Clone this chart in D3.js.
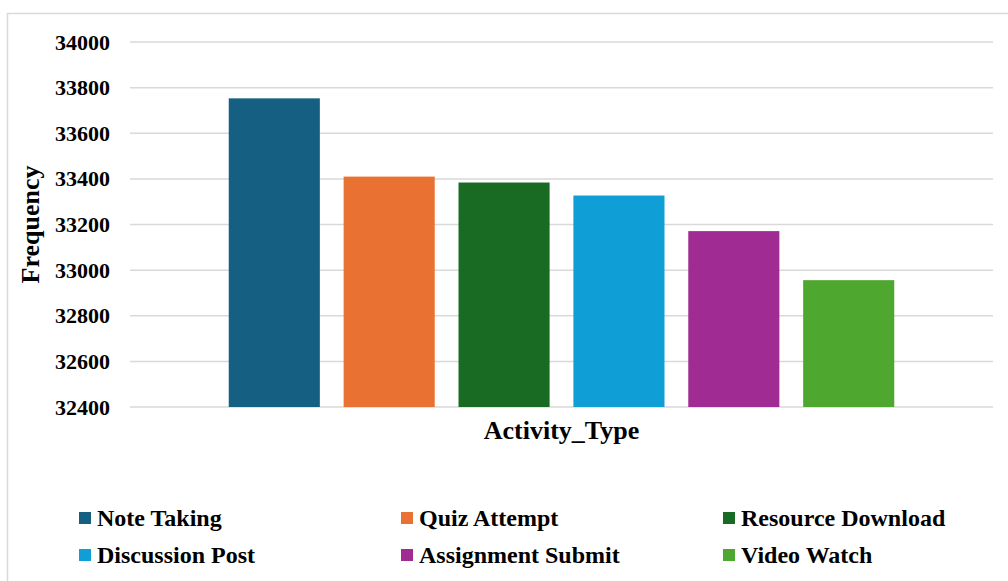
<!DOCTYPE html>
<html>
<head>
<meta charset="utf-8">
<script src="https://cdn.jsdelivr.net/npm/d3@7"></script>
<style>
  body { margin: 0; background: #fff; }
  svg { display: block; font-family: "Liberation Serif", "Times New Roman", serif; font-weight: bold; }
</style>
</head>
<body>
<div id="chart"></div>
<script>
const categories = ["Activity_Type"];
const series = ["Note Taking", "Quiz Attempt", "Resource Download", "Discussion Post", "Assignment Submit", "Video Watch"];
const values = [33753, 33410, 33384, 33327, 33171, 32956];
const colors = ["#156082", "#e97132", "#196b24", "#0f9ed5", "#a02b93", "#4ea72e"];
const yTicks = [32400, 32600, 32800, 33000, 33200, 33400, 33600, 33800, 34000];

const width = 1008, height = 581;
const plot = { left: 130, right: 993, top: 42, bottom: 407 };

const svg = d3.select("#chart").append("svg")
  .attr("width", width)
  .attr("height", height);

// chart area border
svg.append("rect")
  .attr("x", 7.5).attr("y", 13.5)
  .attr("width", 1010).attr("height", 600)
  .attr("fill", "#fff")
  .attr("stroke", "#d9d9d9")
  .attr("stroke-width", 1.5);

const y = d3.scaleLinear()
  .domain([32400, 34000])
  .range([plot.bottom, plot.top]);

const x0 = d3.scaleBand()
  .domain(categories)
  .range([plot.left, plot.right])
  .paddingOuter(0.126);

const x1 = d3.scaleBand()
  .domain(series)
  .range([0, x0.bandwidth()])
  .paddingInner(0.207)
  .paddingOuter(0.1035);

// gridlines
svg.append("g")
  .selectAll("line")
  .data(yTicks)
  .join("line")
  .attr("x1", plot.left)
  .attr("x2", plot.right)
  .attr("y1", d => y(d))
  .attr("y2", d => y(d))
  .attr("stroke", "#d9d9d9")
  .attr("stroke-width", 1.5);

// y axis labels
const yAxis = svg.append("g")
  .attr("transform", "translate(110,0)")
  .call(d3.axisLeft(y).tickValues(yTicks).tickSize(0).tickPadding(0).tickFormat(d3.format("d")));
yAxis.select(".domain").remove();
yAxis.selectAll("text")
  .attr("font-family", "Liberation Serif, Times New Roman, serif")
  .attr("font-weight", "bold")
  .attr("font-size", 22)
  .attr("fill", "#000");

// bars
svg.append("g")
  .selectAll("rect")
  .data(series.map((s, i) => ({ s, v: values[i], c: colors[i] })))
  .join("rect")
  .attr("x", d => x0(categories[0]) + x1(d.s))
  .attr("width", x1.bandwidth())
  .attr("y", d => y(d.v))
  .attr("height", d => y(32400) - y(d.v))
  .attr("fill", d => d.c);

// axis titles
svg.append("text")
  .attr("x", (plot.left + plot.right) / 2)
  .attr("y", 439)
  .attr("text-anchor", "middle")
  .attr("font-size", 26)
  .text("Activity_Type");

svg.append("text")
  .attr("transform", `translate(39,${(plot.top + plot.bottom) / 2}) rotate(-90)`)
  .attr("text-anchor", "middle")
  .attr("font-size", 26)
  .text("Frequency");

// legend
const legend = svg.append("g")
  .selectAll("g")
  .data(series)
  .join("g")
  .attr("transform", (d, i) => `translate(${79 + (i % 3) * 322},${518 + Math.floor(i / 3) * 37})`);

legend.append("rect")
  .attr("x", 0).attr("y", -6)
  .attr("width", 12).attr("height", 12)
  .attr("fill", (d, i) => colors[i]);

legend.append("text")
  .attr("x", 18)
  .attr("y", 0)
  .attr("dy", "0.35em")
  .attr("font-size", 24)
  .text(d => d);
</script>
</body>
</html>
